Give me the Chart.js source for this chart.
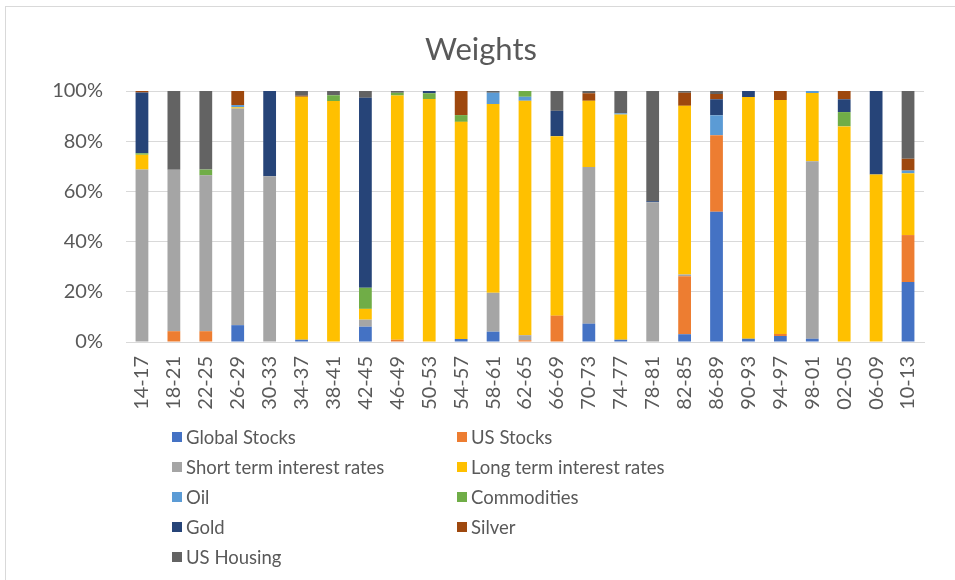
<!DOCTYPE html>
<html>
<head>
<meta charset="utf-8">
<script src="https://cdn.jsdelivr.net/npm/chart.js@4/dist/chart.umd.min.js"></script>
<style>
  html, body { margin: 0; padding: 0; background: #fff; overflow: hidden; }
  #wrap { position: relative; width: 955px; height: 580px; }
  #frame { position: absolute; left: 5px; top: 6px; width: 980px; height: 620px; border: 1px solid #d9d9d9; box-sizing: border-box; pointer-events: none; }
  canvas { position: absolute; left: 0; top: 0; }
</style>
</head>
<body>
<div id="wrap">
  <canvas id="c" width="955" height="580"></canvas>
  <div id="frame"></div>
</div>
<script>
const categories = ["14-17","18-21","22-25","26-29","30-33","34-37","38-41","42-45","46-49","50-53","54-57","58-61","62-65","66-69","70-73","74-77","78-81","82-85","86-89","90-93","94-97","98-01","02-05","06-09","10-13"];

const globalStocks  = [0, 0, 0, 6.7, 0, 0.9, 0, 6.1, 0, 0, 1.2, 4.1, 0, 0, 7.3, 0.9, 0, 3.1, 51.9, 1.3, 2.4, 1.3, 0, 0, 23.9];
const usStocks      = [0, 4.3, 4.3, 0, 0, 0, 0, 0, 0.9, 0, 0, 0, 0.7, 10.5, 0, 0, 0, 23.1, 30.5, 0, 0.8, 0, 0, 0, 18.7];
const shortRates    = [68.7, 64.3, 62.1, 86.3, 66, 0, 0, 2.8, 0, 0, 0, 15.5, 2, 0, 62.4, 0, 55.7, 0.7, 0, 0, 0, 70.7, 0, 0, 0];
const longRates     = [5.9, 0, 0, 0.5, 0, 96.8, 96, 4.3, 97.3, 96.8, 86.5, 75.2, 93.4, 71.5, 26.4, 89.7, 0, 67.2, 0, 96.3, 93.2, 27.2, 85.9, 66.7, 24.6];
const oil           = [0, 0, 0, 0.9, 0, 0, 0, 0, 0, 0, 0, 4.5, 1.6, 0, 0, 0.5, 0, 0, 7.9, 0, 0, 0.8, 0, 0, 1.1];
const commodities   = [0.6, 0, 2.3, 0, 0, 0, 2.3, 8.4, 1.1, 2.3, 2.7, 0, 2.3, 0, 0, 0, 0, 0, 0, 0, 0, 0, 5.7, 0, 0];
const gold          = [24.2, 0, 0, 0, 34, 0, 0, 75.7, 0, 0.9, 0, 0, 0, 10.1, 0, 0, 0.4, 0, 6.4, 2.4, 0, 0, 5.1, 33.3, 0];
const silver        = [0.6, 0, 0, 5.6, 0, 0.4, 0, 0, 0, 0, 9.6, 0, 0, 0, 3, 0, 0, 5.2, 2.1, 0, 3.6, 0, 3.3, 0, 4.7];
const usHousing     = [0, 31.4, 31.3, 0, 0, 1.9, 1.7, 2.7, 0.7, 0, 0, 0.7, 0, 7.9, 0.9, 8.9, 43.9, 0.7, 1.2, 0, 0, 0, 0, 0, 27];

const yTicks = [0, 20, 40, 60, 80, 100];

const seriesNames  = ["Global Stocks", "US Stocks", "Short term interest rates", "Long term interest rates", "Oil", "Commodities", "Gold", "Silver", "US Housing"];
const seriesValues = [globalStocks, usStocks, shortRates, longRates, oil, commodities, gold, silver, usHousing];
const seriesColors = ["#4472C4", "#ED7D31", "#A5A5A5", "#FFC000", "#5B9BD5", "#70AD47", "#264478", "#9E480E", "#636363"];

const FONT = "Lato, 'Open Sans', sans-serif";
const TXT = "#595959";

const datasets = seriesNames.map((n, i) => ({
  label: n,
  data: seriesValues[i],
  backgroundColor: seriesColors[i],
  borderWidth: 0,
  categoryPercentage: 1.0,
  barPercentage: 0.4
}));

const customDeco = {
  id: 'customDeco',
  afterDraw(chart) {
    const ctx = chart.ctx;
    ctx.save();
    // title
    ctx.fillStyle = TXT;
    ctx.font = "31px " + FONT;
    ctx.textAlign = "center";
    ctx.textBaseline = "alphabetic";
    ctx.fillText("Weights", 481, 60);
    // legend (two columns)
    ctx.font = "18.5px " + FONT;
    ctx.textAlign = "left";
    ctx.textBaseline = "middle";
    const colX = [172, 457];
    chart.data.datasets.forEach((ds, i) => {
      const col = i % 2, row = Math.floor(i / 2);
      const x = colX[col], y = 437 + row * 30;
      ctx.fillStyle = ds.backgroundColor;
      ctx.fillRect(x, y - 5, 10, 10);
      ctx.fillStyle = TXT;
      ctx.fillText(ds.label, x + 14, y + 1);
    });
    ctx.restore();
  }
};

new Chart(document.getElementById('c'), {
  type: 'bar',
  data: { labels: categories, datasets },
  plugins: [customDeco],
  options: {
    responsive: false,
    animation: false,
    layout: { padding: { left: 0, right: 31, top: 91, bottom: 0 } },
    plugins: { legend: { display: false }, title: { display: false }, tooltip: { enabled: false } },
    scales: {
      x: {
        stacked: true,
        grid: { display: false, drawTicks: false },
        border: { display: true, color: "#d9d9d9" },
        ticks: { color: TXT, font: { family: FONT, size: 20 }, minRotation: 90, maxRotation: 90, padding: 14, autoSkip: false },
        afterFit(s) { s.height = 238; }
      },
      y: {
        stacked: true,
        min: 0, max: 100,
        afterBuildTicks(s) { s.ticks = yTicks.map(v => ({ value: v })); },
        grid: { color: "#d9d9d9", lineWidth: 1, drawTicks: false },
        border: { display: false },
        ticks: { color: TXT, font: { family: FONT, size: 20 }, padding: 23, callback: v => v + "%" },
        afterFit(s) { s.width = 126; }
      }
    }
  }
});
</script>
</body>
</html>
